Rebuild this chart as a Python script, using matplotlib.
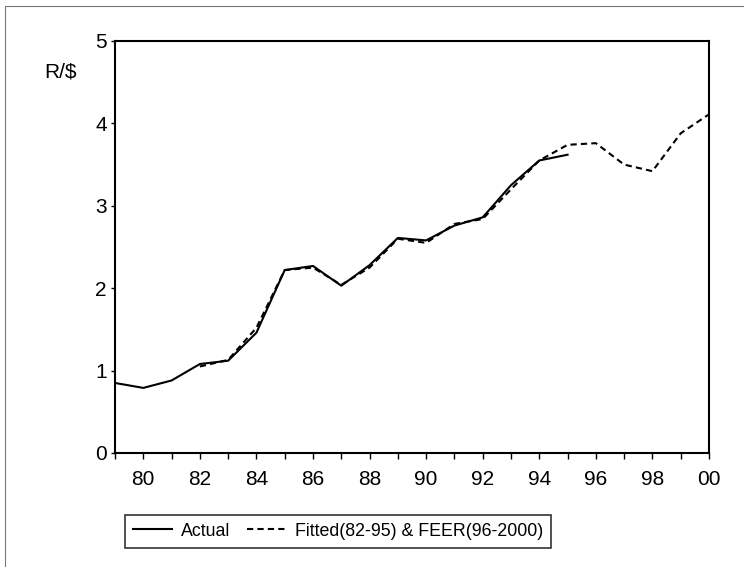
import numpy as np
import matplotlib.pyplot as plt
from matplotlib.patches import Rectangle

plt.rcParams['font.family'] = ['Liberation Sans', 'DejaVu Sans']

# ----------------------------
# data
# ----------------------------
actual_years = list(range(1979, 1996))
actual = [0.85, 0.79, 0.88, 1.08, 1.12, 1.46, 2.22, 2.27, 2.03, 2.28,
          2.61, 2.58, 2.76, 2.86, 3.25, 3.55, 3.62]

fitted_years = list(range(1982, 2001))
fitted = [1.05, 1.13, 1.52, 2.22, 2.25, 2.04, 2.25, 2.60, 2.55, 2.78,
          2.84, 3.20, 3.55, 3.74, 3.76, 3.50, 3.42, 3.88, 4.11]

x_labels = ["80", "82", "84", "86", "88", "90", "92", "94", "96", "98", "00"]

# ----------------------------
# figure
# ----------------------------
W, H = 744, 567
fig = plt.figure(figsize=(W / 100, H / 100), dpi=100)
ax = fig.add_axes([115 / W, 1 - 453 / H, (709 - 115) / W, (453 - 41) / H])

ax.plot(actual_years, actual, color="black", lw=1.5, label="Actual")
ax.plot(fitted_years, fitted, color="black", lw=1.5, ls=(0, (3, 2)),
        label="Fitted(82-95) & FEER(96-2000)")

ax.set_xlim(1979, 2000)
ax.set_ylim(0, 5)
ax.set_yticks(range(6))
ax.set_xticks(range(1979, 2001), minor=True)
ax.set_xticks(range(1980, 2001, 2))
ax.set_xticklabels(x_labels)
ax.tick_params(axis="both", direction="out", labelsize=15, colors="black")
ax.tick_params(axis="x", which="both", length=4, width=1, pad=8)
ax.tick_params(axis="y", length=3, width=1, pad=3)
for s in ax.spines.values():
    s.set_linewidth(1.5)

fig.text(61 / W, 1 - 72 / H, "R/$", fontsize=15, ha="center", va="center")

# legend box drawn below the axes
fig.legend(loc="center", bbox_to_anchor=(338 / W, 1 - 531 / H), ncol=2,
           fontsize=12.8, frameon=True, fancybox=False, edgecolor="black",
           handlelength=2.2, columnspacing=0.9, borderpad=0.45,
           handletextpad=0.5)
leg = fig.legends[0]
leg.get_frame().set_linewidth(1.2)

# outer border of the picture
fig.patches.append(Rectangle((5 / W, -0.1), 1.2, 1 - 6 / H + 0.1,
                             transform=fig.transFigure, fill=False,
                             edgecolor="#777777", lw=0.8))

fig.savefig("out.png", dpi=100)
